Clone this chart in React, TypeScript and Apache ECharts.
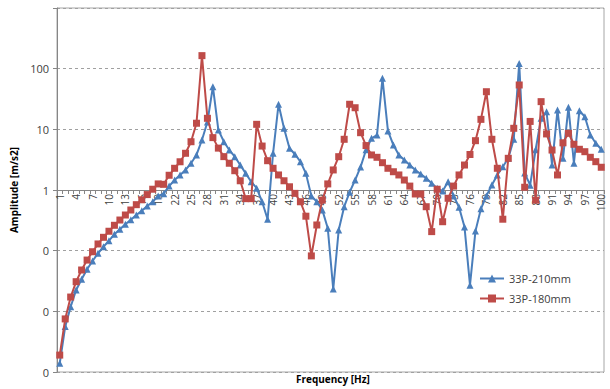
import React, { useEffect, useRef } from "react";
import * as echarts from "echarts";

const categories: string[] = Array.from({ length: 100 }, (_, i) => String(i + 1));

const seriesNames = ["33P-210mm", "33P-180mm"];

const amp210: number[] = [
  0.00139, 0.0056, 0.0119, 0.0225, 0.0337, 0.0493, 0.0676, 0.0905, 0.116, 0.146,
  0.186, 0.225, 0.272, 0.324, 0.387, 0.456, 0.545, 0.641, 0.8, 0.87,
  1.16, 1.46, 1.77, 2.14, 2.76, 3.78, 6.67, 13.2, 50.4, 9.75,
  6.26, 4.56, 3.54, 2.58, 1.88, 1.37, 1.07, 0.64, 0.33, 4.03,
  25.9, 10.4, 4.87, 3.88, 2.93, 1.88, 0.8, 0.64, 0.47, 0.234,
  0.0233, 0.219, 0.53, 0.92, 1.46, 2.4, 4.6, 7.1, 8.07, 69.3,
  9.4, 5.5, 3.78, 3.12, 2.58, 2.14, 1.84, 1.56, 1.29, 1.07,
  0.96, 1.37, 0.8, 0.52, 0.245, 0.027, 0.21, 0.49, 0.8, 1.21,
  1.77, 2.42, 3.33, 6.85, 122, 1.9, 1.2, 4.6, 15.2, 19.5,
  2.58, 20.8, 3.33, 23.1, 2.76, 20.3, 16.1, 8.07, 5.89, 4.69,
];

const amp180: number[] = [
  0.0019, 0.0075, 0.0172, 0.0308, 0.048, 0.07, 0.096, 0.129, 0.166, 0.209,
  0.262, 0.32, 0.387, 0.468, 0.573, 0.69, 0.84, 1.03, 1.26, 1.24,
  1.75, 2.28, 2.92, 4.03, 6.25, 12.6, 164, 15.2, 7.3, 4.9,
  3.55, 2.76, 2.08, 1.42, 0.72, 0.72, 12.1, 5.3, 3.04, 2.28,
  1.77, 1.42, 1.13, 0.88, 0.64, 0.37, 0.082, 0.265, 0.68, 1.26,
  2.14, 3.54, 6.85, 25.9, 22.7, 8.8, 5.4, 3.78, 3.46, 2.82,
  2.28, 2.0, 1.77, 1.46, 1.16, 0.86, 0.86, 0.53, 0.206, 1.03,
  0.3, 0.73, 1.16, 1.77, 2.58, 3.85, 6.5, 14.6, 41.7, 6.85,
  2.28, 0.33, 3.33, 10.4, 53.8, 1.11, 13.5, 0.68, 28.6, 8.4,
  4.56, 1.77, 6.0, 8.6, 5.67, 4.69, 4.28, 3.46, 2.93, 2.37,
];

const yTickValues: number[] = [0.001, 0.01, 0.1, 1, 10, 100, 1000];
const yTickLabels: string[] = ["0", "0", "0", "1", "10", "100", ""];

const FONT = "'Open Sans', 'Noto Sans', sans-serif";

export default function App() {
  const ref = useRef<HTMLDivElement>(null);
  useEffect(() => {
    if (!ref.current) return;
    const chart = echarts.init(ref.current, undefined, { renderer: "svg" });
    const labelFor = (v: number) => {
      let best = 0;
      let bd = Infinity;
      yTickValues.forEach((t, i) => {
        const d = Math.abs(Math.log10(v) - Math.log10(t));
        if (d < bd) {
          bd = d;
          best = i;
        }
      });
      return yTickLabels[best];
    };
    chart.setOption({
      animation: false,
      backgroundColor: "#ffffff",
      textStyle: { fontFamily: FONT },
      grid: {
        left: 57,
        right: 6,
        top: 8,
        bottom: 17,
        show: true,
        borderColor: "#a6a6a6",
        borderWidth: 1,
        outerBoundsMode: "none",
      },
      legend: {
        orient: "vertical",
        left: 474,
        top: 268,
        itemWidth: 24,
        itemHeight: 10,
        itemGap: 9,
        textStyle: { fontSize: 11, color: "#404040", fontFamily: FONT },
        data: seriesNames,
      },
      graphic: [
        {
          type: "text",
          left: 296,
          top: 374,
          style: {
            text: "Frequency [Hz]",
            font: `bold 10px ${FONT}`,
            fill: "#000000",
          },
        },
      ],
      xAxis: {
        type: "category",
        data: categories,
        boundaryGap: true,
        position: "bottom",
        offset: -182,
        axisLine: { show: true, lineStyle: { color: "#868686", width: 1 } },
        axisTick: { show: true, interval: 0, length: 4, lineStyle: { color: "#868686" } },
        axisLabel: {
          interval: 2,
          rotate: 90,
          fontSize: 10,
          color: "#404040",
          margin: 4,
          fontFamily: FONT,
        },
        splitLine: { show: false },
      },
      yAxis: {
        type: "log",
        logBase: 10,
        min: 0.001,
        max: 1000,
        name: "Amplitude [m/s2]",
        nameLocation: "middle",
        nameGap: 37,
        nameTextStyle: { fontSize: 10, fontWeight: "bold", color: "#000000", fontFamily: FONT },
        axisLine: { show: true, lineStyle: { color: "#868686" } },
        axisTick: { show: true, length: 4, lineStyle: { color: "#868686" } },
        axisLabel: {
          fontSize: 11,
          color: "#404040",
          margin: 8,
          formatter: (v: number) => labelFor(v),
          fontFamily: FONT,
        },
        splitLine: {
          show: true,
          lineStyle: { color: "#a0a0a0", type: [3, 3], width: 1 },
        },
      },
      series: [
        {
          name: seriesNames[0],
          type: "line",
          data: amp210,
          symbol: "triangle",
          symbolSize: 7,
          showAllSymbol: true,
          color: "#4a7ebb",
          lineStyle: { width: 2, color: "#4a7ebb" },
          itemStyle: { color: "#4a7ebb" },
          z: 3,
        },
        {
          name: seriesNames[1],
          type: "line",
          data: amp180,
          symbol: "rect",
          symbolSize: 7,
          showAllSymbol: true,
          color: "#be4b48",
          lineStyle: { width: 2, color: "#be4b48" },
          itemStyle: { color: "#be4b48" },
          z: 4,
        },
      ],
    });
    return () => chart.dispose();
  }, []);
  return (
    <div
      ref={ref}
      style={{ position: "fixed", left: 0, top: 0, width: 610, height: 389, background: "#fff" }}
    />
  );
}
